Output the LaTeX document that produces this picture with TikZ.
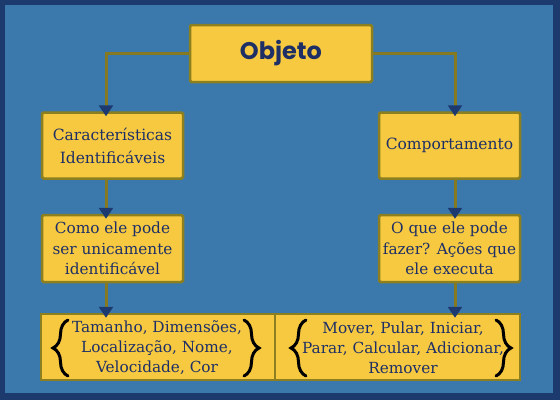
\documentclass[tikz,border=0pt]{standalone}
\usepackage{fontspec}
\setmainfont{DejaVu Serif}
\newfontfamily\titlefont{Poppins}
\usetikzlibrary{arrows.meta,decorations.pathreplacing,calc}
\definecolor{framec}{HTML}{1C3A6E}
\definecolor{bgc}{HTML}{3B79AD}
\definecolor{boxc}{HTML}{F7C940}
\definecolor{boxline}{HTML}{8C7F1F}
\definecolor{connc}{HTML}{857A22}
\definecolor{tipc}{HTML}{1C3A70}
\definecolor{textc}{HTML}{1E2F66}
\tikzset{
  ybox/.style={draw=boxline, line width=2.5pt, fill=boxc, rounded corners=1.5pt,
    text=textc, align=center, inner sep=0pt, font=\fontsize{15.3}{20.5}\selectfont},
  conn/.style={draw=connc, line width=3pt,
    -{Triangle[width=14pt,length=11pt,color=tipc]}, shorten >=-5pt},
  bracestyle/.style={draw=black, line width=3pt, line cap=round,
    decorate, decoration={brace, amplitude=15pt, aspect=0.5}},
  btext/.style={text=textc, align=center, inner sep=0pt, font=\fontsize{15.3}{20}\selectfont}
}
\begin{document}
\begin{tikzpicture}[x=1pt,y=-1pt]
\useasboundingbox (0,0) rectangle (560,400);
\fill[framec] (0,0) rectangle (560,400);
\fill[bgc] (5,5) rectangle (553,393);
\coordinate (cl) at (106,0);
\coordinate (cr) at (455,0);
\node[ybox, minimum width=182pt, minimum height=57pt, font=\titlefont\bfseries\fontsize{24}{28}\selectfont] (obj) at (281,53.5) {Objeto};
\node[ybox, minimum width=141pt, minimum height=66pt, font=\fontsize{15.5}{23}\selectfont] (l1) at (112.5,145.5) {Características\\Identificáveis};
\node[ybox, minimum width=141pt, minimum height=66pt, font=\fontsize{15.5}{23}\selectfont] (r1) at (449.5,145.5) {Comportamento};
\node[ybox, minimum width=141pt, minimum height=67pt] (l2) at (112.5,248.5) {Como ele pode\\ser unicamente\\identificável};
\node[ybox, minimum width=141pt, minimum height=67pt] (r2) at (449.5,248.5) {O que ele pode\\fazer? Ações que\\ele executa};
\node[ybox, rounded corners=0pt, minimum width=234pt, minimum height=66pt] (bl) at (158,347) {};
\node[ybox, rounded corners=0pt, minimum width=245pt, minimum height=66pt] (br) at (397.5,347) {};
\node[btext] (blt) at (157,348) {Tamanho, Dimensões,\\Localização, Nome,\\Velocidade, Cor};
\node[btext] (brt) at (403,348) {Mover, Pular, Iniciar,\\Parar, Calcular, Adicionar,\\Remover};
\draw[bracestyle] (68,376) -- (68,320);
\draw[bracestyle] (244,320) -- (244,376);
\draw[bracestyle] (306,376) -- (306,320);
\draw[bracestyle] (496,320) -- (496,376);
\draw[conn] (obj.west) -| (l1.north -| cl);
\draw[conn] (obj.east) -| (r1.north -| cr);
\draw[conn] (l1.south -| cl) -- (l2.north -| cl);
\draw[conn] (r1.south -| cr) -- (r2.north -| cr);
\draw[conn] (l2.south -| cl) -- (bl.north -| cl);
\draw[conn] (r2.south -| cr) -- (br.north -| cr);
\end{tikzpicture}
\end{document}
